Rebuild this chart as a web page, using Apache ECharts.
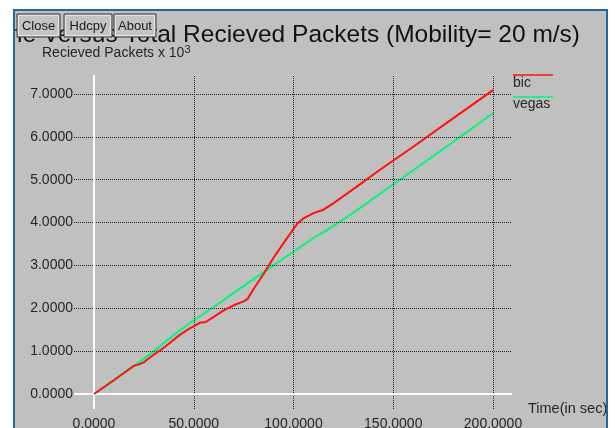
<!DOCTYPE html>
<html>
<head>
<meta charset="utf-8">
<script src="https://cdn.jsdelivr.net/npm/echarts@6/dist/echarts.min.js"></script>
<style>
  html, body { margin: 0; padding: 0; background: #ffffff; }
  #chart { width: 615px; height: 428px; }
</style>
</head>
<body>
<div id="chart"></div>
<script>
// Received packets over time for the two TCP variants
const timeBic = [0, 10, 20, 22, 25, 30, 35, 43, 48, 50, 53, 56, 60, 65, 70, 75, 77, 80, 85, 90, 95, 100, 102, 105, 110, 115, 120, 130, 143, 160, 180, 200];
const bicPackets = [0, 0.32, 0.66, 0.68, 0.74, 0.92, 1.08, 1.38, 1.53, 1.58, 1.66, 1.68, 1.8, 1.95, 2.07, 2.16, 2.22, 2.45, 2.8, 3.18, 3.52, 3.85, 3.98, 4.1, 4.22, 4.3, 4.45, 4.78, 5.22, 5.77, 6.43, 7.09];
const timeVegas = [0, 10, 20, 30, 40, 50, 60, 70, 80, 90, 100, 110, 116, 130, 143, 160, 180, 200];
const vegasPackets = [0, 0.33, 0.65, 1.0, 1.38, 1.72, 2.03, 2.36, 2.68, 3.0, 3.32, 3.64, 3.8, 4.23, 4.66, 5.22, 5.88, 6.55];

const xTicks = [0, 50, 100, 150, 200];
const yTicks = [0, 1, 2, 3, 4, 5, 6, 7];

// plot geometry (pixels)
const W = 615, H = 428;
const PX_X0 = 94, PX_X1 = 493;   // x = 0 and x = 200
const PX_Y0 = 394, PX_Y1 = 94;   // y = 0 and y = 7
const FRAME_L = 74, FRAME_R = 512, FRAME_T = 75, FRAME_B = 409;

const xMin = xTicks[0], xMax = xTicks[xTicks.length - 1];
const yMin = yTicks[0], yMax = yTicks[yTicks.length - 1];
const pxPerX = (PX_X1 - PX_X0) / (xMax - xMin);
const pxPerY = (PX_Y0 - PX_Y1) / (yMax - yMin);

const BG = '#c0c0c0';
const BORDER = '#23689b';
const INK = '#262626';
const FONT = "'Liberation Sans', Arial, Helvetica, sans-serif";

const pair = (xs, ys) => xs.map((x, i) => [x, ys[i]]);

const chart = echarts.init(document.getElementById('chart'), null, { renderer: 'canvas' });

const gridLineStyle = { color: '#202020', type: 'dotted', width: 1 };
const axisLineStyle = { color: '#ffffff', type: 'solid', width: 2 };

chart.setOption({
  backgroundColor: BG,
  animation: false,
  title: {
    text: 'Time Versus Total Recieved Packets (Mobility= 20 m/s)',
    right: W - 580,
    top: 23,
    padding: 0,
    textStyle: { fontFamily: FONT, fontSize: 24.5, fontWeight: 'normal', color: '#111111' }
  },
  grid: [
    // labelled axes
    { left: PX_X0, right: W - PX_X1, top: PX_Y1, bottom: H - PX_Y0, containLabel: false, outerBoundsMode: 'none' },
    // frame that carries the grid lines and the curves
    { left: FRAME_L, right: W - FRAME_R, top: FRAME_T, bottom: H - FRAME_B, containLabel: false, outerBoundsMode: 'none' }
  ],
  xAxis: [
    {
      gridIndex: 0, type: 'value', min: xMin, max: xMax, interval: 50,
      axisLine: { show: false }, axisTick: { show: false }, splitLine: { show: false },
      axisLabel: {
        margin: 23, color: INK, fontFamily: FONT, fontSize: 14,
        alignMinLabel: 'center', alignMaxLabel: 'center',
        formatter: v => v.toFixed(4)
      }
    },
    {
      gridIndex: 1, type: 'value',
      min: xMin - (PX_X0 - FRAME_L) / pxPerX,
      max: xMax + (FRAME_R - PX_X1) / pxPerX,
      show: false
    }
  ],
  yAxis: [
    {
      gridIndex: 0, type: 'value', min: yMin, max: yMax, interval: 1,
      axisLine: { show: false }, axisTick: { show: false }, splitLine: { show: false },
      axisLabel: {
        margin: 21, color: INK, fontFamily: FONT, fontSize: 14,
        verticalAlignMinLabel: 'middle', verticalAlignMaxLabel: 'middle',
        formatter: v => v.toFixed(4)
      }
    },
    {
      gridIndex: 1, type: 'value',
      min: yMin - (FRAME_B - PX_Y0) / pxPerY,
      max: yMax + (PX_Y1 - FRAME_T) / pxPerY,
      show: false
    }
  ],
  series: [
    {
      type: 'line', xAxisIndex: 1, yAxisIndex: 1, data: [], silent: true, z: 1,
      markLine: {
        silent: true, symbol: 'none', animation: false,
        label: { show: false },
        lineStyle: gridLineStyle,
        data: [
          ...xTicks.filter(v => v !== 0).map(v => ({ xAxis: v })),
          ...yTicks.filter(v => v !== 0).map(v => ({ yAxis: v })),
          { xAxis: 0, lineStyle: axisLineStyle },
          { yAxis: 0, lineStyle: axisLineStyle }
        ]
      }
    },
    {
      name: 'bic', type: 'line', xAxisIndex: 1, yAxisIndex: 1, z: 5,
      data: pair(timeBic, bicPackets), showSymbol: false, smooth: false,
      lineStyle: { color: '#ff1010', width: 2 }, itemStyle: { color: '#ff1010' }
    },
    {
      name: 'vegas', type: 'line', xAxisIndex: 1, yAxisIndex: 1, z: 4,
      data: pair(timeVegas, vegasPackets), showSymbol: false, smooth: false,
      lineStyle: { color: '#00f77c', width: 2 }, itemStyle: { color: '#00f77c' }
    }
  ],
  graphic: [
    // axis captions
    {
      type: 'text', left: 42, top: 44, z: 10,
      style: {
        text: 'Recieved Packets x 10{sup|3}',
        fill: INK, font: '14px ' + FONT,
        rich: { sup: { fontSize: 11, fontFamily: FONT, fill: INK, verticalAlign: 'top', padding: [0, 0, 8, 0] } }
      }
    },
    {
      type: 'text', left: 528, top: 401, z: 10,
      style: { text: 'Time(in sec)', fill: INK, font: '14.5px ' + FONT }
    },
    // series key
    { type: 'line', z: 10, shape: { x1: 513, y1: 75, x2: 553, y2: 75 }, style: { stroke: '#ff1010', lineWidth: 1.5 } },
    { type: 'text', left: 513, top: 76, z: 10, style: { text: 'bic', fill: INK, font: '14px ' + FONT } },
    { type: 'line', z: 10, shape: { x1: 513, y1: 97, x2: 553, y2: 97 }, style: { stroke: '#00f77c', lineWidth: 1.5 } },
    { type: 'text', left: 513, top: 97, z: 10, style: { text: 'vegas', fill: INK, font: '14px ' + FONT } },
    // window frame
    { type: 'rect', z: 50, shape: { x: 0, y: 0, width: 14, height: H }, style: { fill: '#ffffff' } },
    { type: 'rect', z: 50, shape: { x: 0, y: 0, width: W, height: 9 }, style: { fill: '#ffffff' } },
    { type: 'rect', z: 50, shape: { x: 607, y: 0, width: 8, height: H }, style: { fill: '#ffffff' } },
    { type: 'rect', z: 51, shape: { x: 13, y: 9, width: 2, height: H - 9 }, style: { fill: BORDER } },
    { type: 'rect', z: 51, shape: { x: 13, y: 9, width: 595, height: 2 }, style: { fill: BORDER } },
    { type: 'rect', z: 51, shape: { x: 606, y: 9, width: 2, height: H - 9 }, style: { fill: BORDER } },
    // buttons
    ...[['Close', 16, 43], ['Hdcpy', 63, 48], ['About', 113, 42]].map(([label, x, w]) => ({
      type: 'group', z: 60, left: x, top: 13,
      children: [
        { type: 'rect', z: 60, shape: { x: 0, y: 0, width: w, height: 23 }, style: { fill: '#c4c4c4', stroke: '#3a3a3a', lineWidth: 1 } },
        { type: 'rect', z: 60, shape: { x: 1.5, y: 1.5, width: w - 3, height: 20 }, style: { fill: 'none', stroke: '#e6e6e6', lineWidth: 1 } },
        { type: 'text', z: 61, style: { text: label, x: w / 2, y: 12, align: 'center', verticalAlign: 'middle', fill: '#1a1a1a', font: '13px ' + FONT } }
      ]
    }))
  ]
});
</script>
</body>
</html>
